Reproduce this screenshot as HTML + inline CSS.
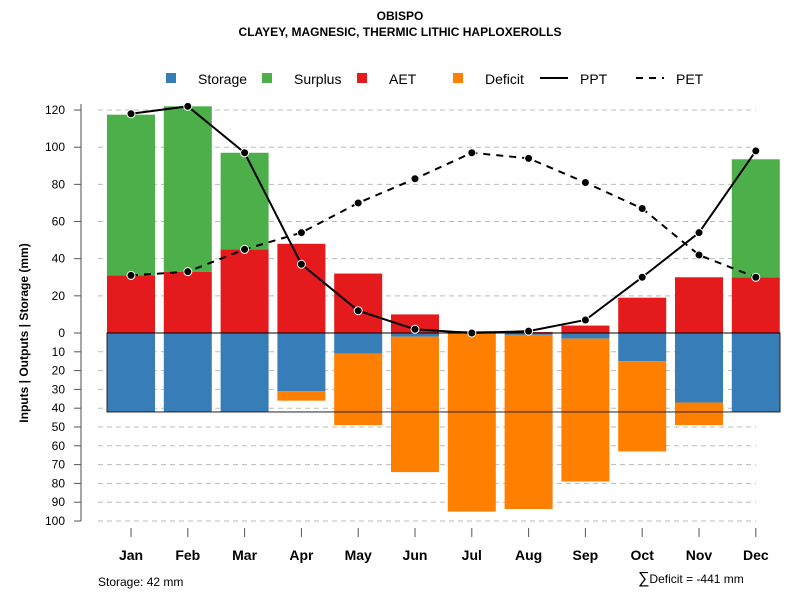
<!DOCTYPE html>
<html><head><meta charset="utf-8"><style>
body{margin:0;background:#fff}
svg text{font-family:"Liberation Sans",Arial,sans-serif}
</style></head><body>
<svg id="c" width="800" height="600" xmlns="http://www.w3.org/2000/svg">
<text x="400" y="20" text-anchor="middle" font-size="12" font-weight="bold">OBISPO</text>
<text x="400" y="36" text-anchor="middle" font-size="12" font-weight="bold">CLAYEY, MAGNESIC, THERMIC LITHIC HAPLOXEROLLS</text>
<g font-size="14">
<g><rect x="166" y="73" width="10" height="10" fill="#377eb8"/><text x="198" y="84">Storage</text></g>
<g><rect x="262" y="73" width="10" height="10" fill="#4daf4a"/><text x="294" y="84">Surplus</text></g>
<g><rect x="357" y="73" width="10" height="10" fill="#e41a1c"/><text x="389" y="84">AET</text></g>
<g><rect x="453" y="73" width="10" height="10" fill="#ff7f00"/><text x="485" y="84">Deficit</text></g>
<g><line x1="540" y1="78" x2="568" y2="78" stroke="#000" stroke-width="2"/><text x="580" y="84">PPT</text></g>
<g><line x1="636" y1="78" x2="664" y2="78" stroke="#000" stroke-width="2" stroke-dasharray="7,6"/><text x="676" y="84">PET</text></g>
</g>
<text transform="translate(28,333) rotate(-90)" text-anchor="middle" font-size="12" font-weight="bold">Inputs | Outputs | Storage    (mm)</text>
<g id="grid"></g><g id="bars"></g><g id="lines"></g><g id="axes"></g>
<text x="98" y="586" font-size="12">Storage: 42 mm</text>
<text x="638" y="583" font-size="12"><tspan font-size="16">∑</tspan>Deficit = -441 mm</text>
</svg>
<script>
const months=["Jan","Feb","Mar","Apr","May","Jun","Jul","Aug","Sep","Oct","Nov","Dec"];
const aet=[31,33,45,48,32,10,1,0.5,4,19,30,30];
const surplus=[86.5,89,52,0,0,0,0,0,0,0,0,63.5];
const storage=[42,42,42,31,11,2,0.5,1,3,15,37,42];
const deficit=[0,0,0,5,38,72,94.5,92.6,76,48,12,0];
const ppt=[118,122,97,37,12,2,0,1,7,30,54,98];
const pet=[31,33,45,54,70,83,97,94,81,67,42,30];
const upTicks=[0,20,40,60,80,100,120];
const downTicks=[10,20,30,40,50,60,70,80,90,100];
const maxStorage=42;
const NS="http://www.w3.org/2000/svg";
const y0=333;
function yUp(v){return y0-v*1.858;}
function yDn(v){return y0+v*1.88;}
function xc(i){return 131+i*56.8;}
const bw=48;
function mk(tag,attrs,parent){const e=document.createElementNS(NS,tag);for(const k in attrs)e.setAttribute(k,attrs[k]);parent.appendChild(e);return e;}
const grid=document.getElementById('grid'),bars=document.getElementById('bars'),lines=document.getElementById('lines'),axes=document.getElementById('axes');
function gl(y){const l=mk('line',{x1:98,x2:756,y1:y,y2:y,stroke:'#bbb','stroke-dasharray':'5,4'},grid);

}
upTicks.forEach(t=>{if(t>0)gl(yUp(t));});
downTicks.forEach(t=>gl(yDn(t)));
mk('line',{x1:81,x2:81,y1:104,y2:521,stroke:'#888','stroke-width':1.5},axes);
function tick(y,lab){mk('line',{x1:74,x2:81,y1:y,y2:y,stroke:'#555'},axes);
const t=mk('text',{x:65,y:y+4,'text-anchor':'end','font-size':12},axes);t.textContent=lab;

}
upTicks.forEach(t=>tick(yUp(t),t));
downTicks.forEach(t=>tick(yDn(t),t));
months.forEach((m,i)=>{
 const x=xc(i);
 function bar(y1,y2,fill,name){if(Math.abs(y2-y1)<0.01)return;const r=mk('rect',{x:x-bw/2,y:Math.min(y1,y2),width:bw,height:Math.abs(y2-y1),fill:fill},bars);
 
 }
 bar(yUp(0),yUp(aet[i]),'#e41a1c','bar-aet-'+m.toLowerCase());
 bar(yUp(aet[i]),yUp(aet[i]+surplus[i]),'#4daf4a','bar-surplus-'+m.toLowerCase());
 bar(yDn(0),yDn(storage[i]),'#377eb8','bar-storage-'+m.toLowerCase());
 bar(yDn(storage[i]),yDn(storage[i]+deficit[i]),'#ff7f00','bar-deficit-'+m.toLowerCase());
 mk('line',{x1:x,x2:x,y1:528,y2:537,stroke:'#555'},axes);
 const t=mk('text',{x:x,y:560,'text-anchor':'middle','font-size':14,'font-weight':'bold'},axes);t.textContent=m;
 
 
});
mk('rect',{x:107,y:y0,width:673,height:yDn(maxStorage)-y0,fill:'none',stroke:'#222','stroke-width':1},bars);
mk('line',{x1:107,x2:780,y1:y0,y2:y0,stroke:'#000'},bars);
function series(vals,dash,name){
 const p=mk('polyline',{points:vals.map((v,i)=>xc(i)+','+yUp(v)).join(' '),fill:'none',stroke:'#000','stroke-width':2,'stroke-dasharray':dash},lines);
 
 
 vals.forEach((v,i)=>{const c=mk('circle',{cx:xc(i),cy:yUp(v),r:4,fill:'#000',stroke:'#fff','stroke-width':1},lines);
 
 });
}
series(pet,'7,6','pet');
series(ppt,'none','ppt');
</script>
</body></html>
